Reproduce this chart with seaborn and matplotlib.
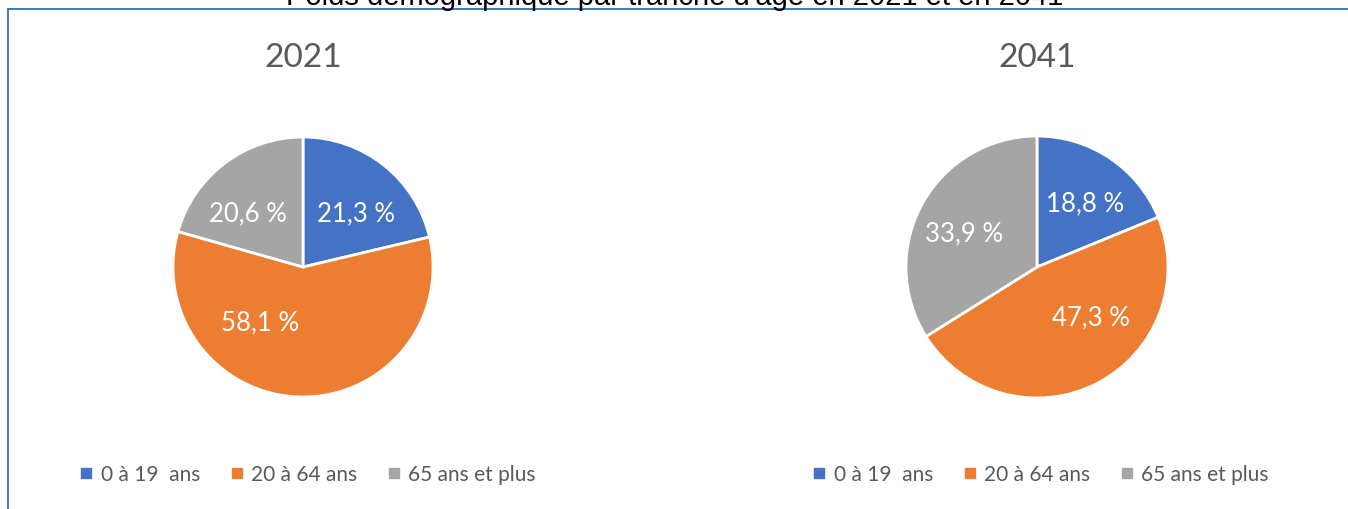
import matplotlib.pyplot as plt
from matplotlib.lines import Line2D
import seaborn as sns

sns.set_theme(style='white')
plt.rcParams['font.family'] = ['Lato', 'DejaVu Sans']

# data
title = "Poids démographique par tranche d'âge en 2021 et en 2041"
years = ['2021', '2041']
groups = ['0 à 19  ans', '20 à 64 ans', '65 ans et plus']
shares_2021 = [21.3, 58.1, 20.6]
shares_2041 = [18.8, 47.3, 33.9]
colors = ['#4472C4', '#ED7D31', '#A5A5A5']

W, H = 1348, 510
fig = plt.figure(figsize=(W / 100, H / 100), dpi=100)

# pie centres / radius in pixels, label offsets in radius units (Excel best fit)
layout = {
    '2021': dict(cx=303, cy=268, r=130, title_y=58, legend_x=308,
                 labels=[(0.41, 0.42), (-0.33, -0.42), (-0.42, 0.42)]),
    '2041': dict(cx=1037, cy=268, r=131, title_y=58, legend_x=1041,
                 labels=[(0.37, 0.49), (0.41, -0.38), (-0.56, 0.26)]),
}

for year, shares in zip(years, [shares_2021, shares_2041]):
    lay = layout[year]
    r = lay['r']
    ax = fig.add_axes([(lay['cx'] - r) / W, (H - lay['cy'] - r) / H,
                       2 * r / W, 2 * r / H])
    wedges, texts, autotexts = ax.pie(
        shares, colors=colors, startangle=90, counterclock=False,
        radius=1, autopct=lambda p: f'{p:.1f} %'.replace('.', ','),
        pctdistance=0.6,
        wedgeprops=dict(edgecolor='white', linewidth=2),
        textprops=dict(color='white', fontsize=18.5))
    for t, (dx, dy) in zip(autotexts, lay['labels']):
        t.set_position((dx, dy))
        t.set_ha('center')
        t.set_va('center')
    ax.set_xlim(-1, 1)
    ax.set_ylim(-1, 1)
    ax.axis('off')

    fig.text(lay['cx'] / W, 1 - lay['title_y'] / H, year, ha='center',
             va='center', fontsize=24, color='#595959')

    handles = [Line2D([], [], marker='s', linestyle='', markersize=7,
                      color=c) for c in colors]
    fig.legend(handles, groups, loc='center',
               bbox_to_anchor=(lay['legend_x'] / W, 1 - 475 / H),
               ncol=3, frameon=False, fontsize=15, handlelength=0.6,
               handletextpad=0.4, columnspacing=1.45, labelcolor='#595959')

# main title, cut at the top like in the source screenshot
fig.text(675 / W, 1 - 5 / H, title, ha='center', va='baseline',
         fontsize=21, color='black', family=['Liberation Sans', 'DejaVu Sans'])

# blue frame (top and left edges)
fig.add_artist(Line2D([8 / W, 1], [1 - 10 / H, 1 - 10 / H],
                      color='#1F64AA', linewidth=1.2))
fig.add_artist(Line2D([8 / W, 8 / W], [0, 1 - 10 / H],
                      color='#1F64AA', linewidth=1.2))

fig.savefig('out.png', dpi=100)
